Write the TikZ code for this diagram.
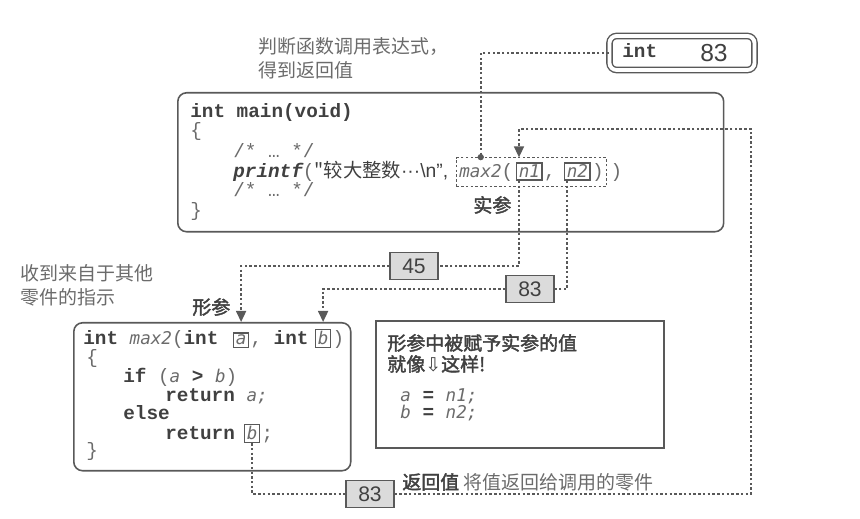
\documentclass[tikz,border=0pt]{standalone}
\usepackage{fontspec}
\setmainfont{Liberation Sans}
\setmonofont{Liberation Mono}
\newfontfamily\cjk{Noto Sans CJK SC}
\newfontfamily\cjkbf[FakeBold=2]{Noto Sans CJK SC}
\newfontfamily\codeit{DejaVu Sans Mono}
\newfontfamily\symb{DejaVu Sans}
\usetikzlibrary{arrows.meta,calc,fit}

\definecolor{ink}{gray}{0.25}
\definecolor{soft}{gray}{0.42}
\definecolor{wire}{gray}{0.35}
\definecolor{chipgray}{gray}{0.86}

\newcommand\kw[1]{{\ttfamily\bfseries\color{ink}#1}}
\newcommand\vn[1]{{\codeit\itshape\fontsize{10}{10}\selectfont\color{soft}#1}}
\newcommand\pl[1]{{\ttfamily\color{soft}#1}}

\begin{document}
\begin{tikzpicture}[x=0.02cm, y=-0.02cm, >={Triangle[length=2.2mm,width=2mm]},
	every node/.style={inner sep=0pt, font=\fontsize{11}{11}\selectfont},
	code/.style={anchor=base west, font=\ttfamily\fontsize{11}{11}\selectfont},
	frame/.style={draw=wire, line width=0.9pt, rounded corners=5pt, anchor=north west},
	argbox/.style={draw=wire, line width=0.8pt, inner sep=1.2pt, anchor=base west},
	chip/.style={draw=wire, line width=0.7pt, fill=chipgray, minimum width=0.96cm, minimum height=0.54cm, text=ink, font=\fontsize{12}{12}\selectfont},
	link/.style={draw=wire, line width=0.9pt, dash pattern=on 1.4pt off 1.3pt},
	note/.style={font=\cjk\fontsize{10.8}{13.5}\selectfont, text=soft, align=left, anchor=north west},
	boldnote/.style={font=\cjkbf\fontsize{10.8}{13}\selectfont, text=ink, anchor=west}]
	\useasboundingbox (0,0) rectangle (860,519);

	% caller
	\node (fmain) [frame, minimum width=10.92cm, minimum height=2.78cm] at (177,92) {};
	\node (m1) [code] at (190,118) {\kw{int main(void)}};
	\node (m2) [code] at (190,137) {\pl{\{}};
	\node (m3) [code] at (233,158) {\pl{/*\ …\ */}};
	\node (pf) [code] at (233,178) {\kw{\itshape printf}\pl{(}{\cjk\color{ink}"较大整数}{\rmfamily\color{ink}···\textbackslash n",}};
	\node (mx) [code] at (459,178) {\vn{max2}\pl{(}};
	\node (n1) [argbox] at (516,178) {\vn{n1}};
	\node (c1) [code] at ($(n1.base east)+(1,0)$) {\pl{,}};
	\node (n2) [argbox] at (564,178) {\vn{n2}};
	\node (c2) [code] at ($(n2.base east)+(1,0)$) {\pl{)}};
	\node (call) [draw=wire, line width=0.7pt, dash pattern=on 1.4pt off 1.3pt, inner xsep=1.5pt, inner ysep=2.5pt, fit=(mx)(n1)(n2)(c2)] {};
	\node (c3) [code] at ($(call.east |- pf.base)+(3,0)$) {\pl{)}};
	\node (m5) [code] at (233,197) {\pl{/*\ …\ */}};
	\node (m6) [code] at (190,217) {\pl{\}}};
	\node (act) [boldnote] at (473,205) {实参};

	% value of the call
	\node (value) [draw=wire, double=white, double distance=2.2pt, line width=0.8pt, rounded corners=4pt, minimum width=2.9cm, minimum height=0.68cm] at (682,53) {};
	\node (vt) [code] at (622,58) {\kw{int}};
	\node (vv) at (714,53) {\fontsize{14}{14}\selectfont\color{ink}83};
	\node (topnote) [note] at (258,37) {判断函数调用表达式，\\得到返回值};
	\coordinate (dot) at ($(call.north west)+(25,0)$);
	\draw[link] (value.west) -| (dot);
	\fill[wire] (dot) circle (1.8pt);

	% callee
	\node (fmax) [frame, minimum width=5.54cm, minimum height=2.96cm] at (73,322) {};
	\node (k1) [code] at (83,345) {\kw{int} \vn{max2}\pl{(}\kw{int}};
	\node (a) [argbox] at (233,345) {\vn{a}};
	\node (k2) [code] at ($(a.base east)+(1,0)$) {\pl{,}\ \kw{int}};
	\node (b) [argbox] at (315,345) {\vn{b}};
	\node (k3) [code] at ($(b.base east)+(1,0)$) {\pl{)}};
	\node (k4) [code] at (86,364) {\pl{\{}};
	\node (k5) [code] at (123,383) {\kw{if} \pl{(}\vn{a} \kw{>} \vn{b}\pl{)}};
	\node (k6) [code] at (165,402) {\kw{return} \vn{a;}};
	\node (k7) [code] at (123,420) {\kw{else}};
	\node (k8) [code] at (165,440) {\kw{return}};
	\node (rb) [argbox] at (244,440) {\vn{b}};
	\node (k9) [code] at ($(rb.base east)+(1,0)$) {\pl{;}};
	\node (k10) [code] at (86,457) {\pl{\}}};
	\node (form) [boldnote] at (192,307) {形参};
	\node (leftnote) [note] at (20,264) {收到来自于其他\\零件的指示};

	% what the call amounts to
	\node (fasg) [draw=wire, line width=1.3pt, minimum width=5.76cm, minimum height=2.54cm, anchor=north west] at (375,320) {};
	\node (h1) [boldnote] at (387,343) {形参中被赋予实参的值};
	\node (h2) [boldnote] at (387,364) {就像{\symb ⇩}这样!};
	\node (s1) [code] at (400,402) {\vn{a} \kw{=} \vn{n1;}};
	\node (s2) [code] at (400,419) {\vn{b} \kw{=} \vn{n2;}};

	% values passed
	\node (v45) [chip] at (414,266) {45};
	\node (v83) [chip] at (530,289) {83};
	\node (vret) [chip] at (370,494) {83};
	\node (back) [boldnote] at (402,482) {返回值 {\cjk\color{soft}将值返回给调用的零件}};

	\coordinate (n1foot) at ($(n1.south west)+(3,0)$);
	\coordinate (n2foot) at ($(n2.south west)+(3,0)$);
	\coordinate (turn) at (751,129);
	\draw[link] (n1foot) |- (v45.east);
	\draw[link,->] (v45.west) -| (a.north |- fmax.north);
	\draw[link] (n2foot) |- (v83.east);
	\draw[link,->] (v83.west) -| (b.north |- fmax.north);
	\draw[link] (rb.south) |- (vret.west);
	\draw[link,->] (vret.east) -| (turn) -| ($(n1.north west)+(3,-5)$);
\end{tikzpicture}
\end{document}
